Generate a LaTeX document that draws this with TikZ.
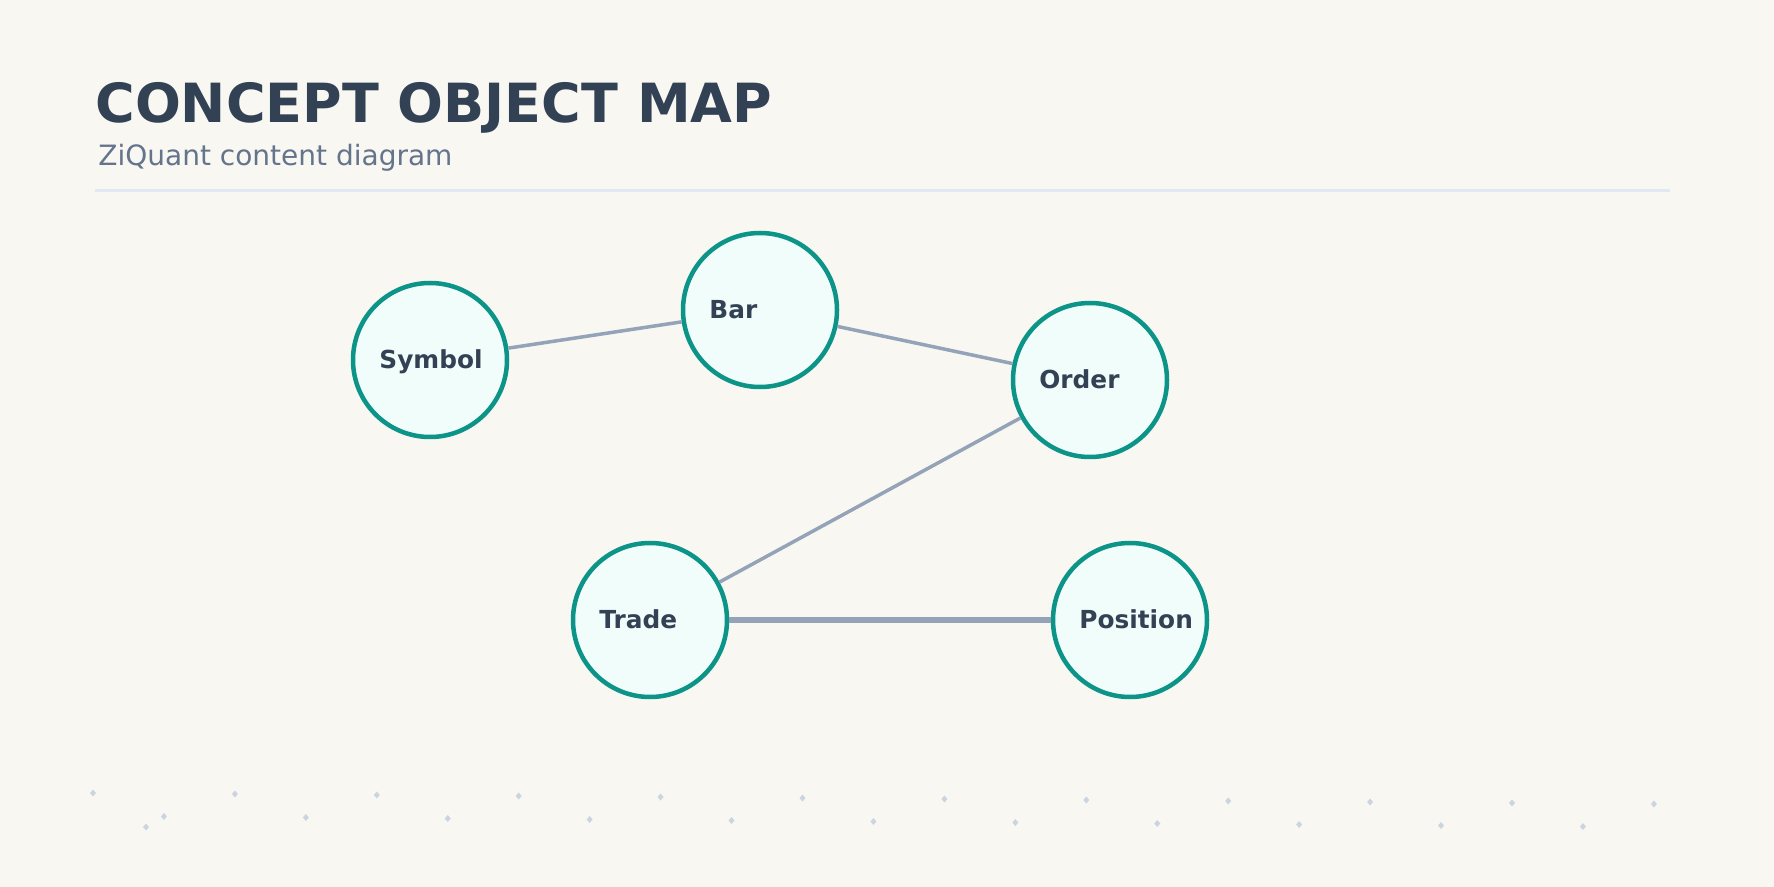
\documentclass[tikz,border=0pt]{standalone}
\usepackage{fontspec}
\setmainfont{DejaVu Sans}
\definecolor{bgpaper}{HTML}{F8F7F2}
\definecolor{inkdark}{HTML}{334155}
\definecolor{inkmuted}{HTML}{64748B}
\definecolor{ruleline}{HTML}{E2E8F0}
\definecolor{tealring}{HTML}{0D9488}
\definecolor{tealfill}{HTML}{F0FDFA}
\definecolor{linkgray}{HTML}{94A3B8}
\definecolor{dotgray}{HTML}{CBD5E1}
\begin{document}
\begin{tikzpicture}[x=0.5pt, y=-0.5pt,
    concept/.style={circle, draw=tealring, fill=tealfill, line width=2.25pt, minimum size=77pt, inner sep=0pt},
    conceptlabel/.style={anchor=base west, inner sep=0pt, text=inkdark, font=\fontsize{12.4}{14}\selectfont\bfseries},
    link/.style={draw=linkgray, line width=1.75pt},
    speck/.style={fill=dotgray}]
    % 背景
    \fill[bgpaper] (0,0) rectangle (1774,887);
    \useasboundingbox (0,0) rectangle (1774,887);

    % 标题
    \node[anchor=base west, inner sep=0pt, text=inkdark, font=\fontsize{27}{32}\selectfont\bfseries] (title) at (95,123) {CONCEPT OBJECT MAP};
    \node[anchor=base west, inner sep=0pt, text=inkmuted, font=\fontsize{14}{17}\selectfont] (subtitle) at (98,166) {ZiQuant content diagram};
    \draw[ruleline, line width=1.5pt] (95,191) -- (1670,191);

    % 底部点
    \foreach \i in {0,...,22} {
        \pgfmathsetmacro{\dx}{93+70.95*\i}
        \pgfmathsetmacro{\dy}{793+0.5*\i+23*mod(\i,2)}
        \fill[speck] (\dx,\dy) +(0,-3.5) -- +(3,0) -- +(0,3.5) -- +(-3,0) -- cycle;
    }
    \fill[speck] (146,827) +(0,-3.5) -- +(3,0) -- +(0,3.5) -- +(-3,0) -- cycle;

    % 概念
    \node[concept] (symbol) at (430,360) {};
    \node[concept] (bar) at (760,310) {};
    \node[concept] (order) at (1090,380) {};
    \node[concept] (trade) at (650,620) {};
    \node[concept] (position) at (1130,620) {};

    \node[conceptlabel] (symbol-text) at ([xshift=-25.5pt, yshift=-4.5pt]symbol.center) {Symbol};
    \node[conceptlabel] (bar-text) at ([xshift=-25.5pt, yshift=-4.5pt]bar.center) {Bar};
    \node[conceptlabel] (order-text) at ([xshift=-25.5pt, yshift=-4.5pt]order.center) {Order};
    \node[conceptlabel] (trade-text) at ([xshift=-25.5pt, yshift=-4.5pt]trade.center) {Trade};
    \node[conceptlabel] (position-text) at ([xshift=-25.5pt, yshift=-4.5pt]position.center) {Position};

    % 连线
    \draw[link] (symbol) -- (bar);
    \draw[link] (bar) -- (order);
    \draw[link] (order) -- (trade);
    \draw[link, line width=2.75pt] (trade) -- (position);
\end{tikzpicture}
\end{document}
